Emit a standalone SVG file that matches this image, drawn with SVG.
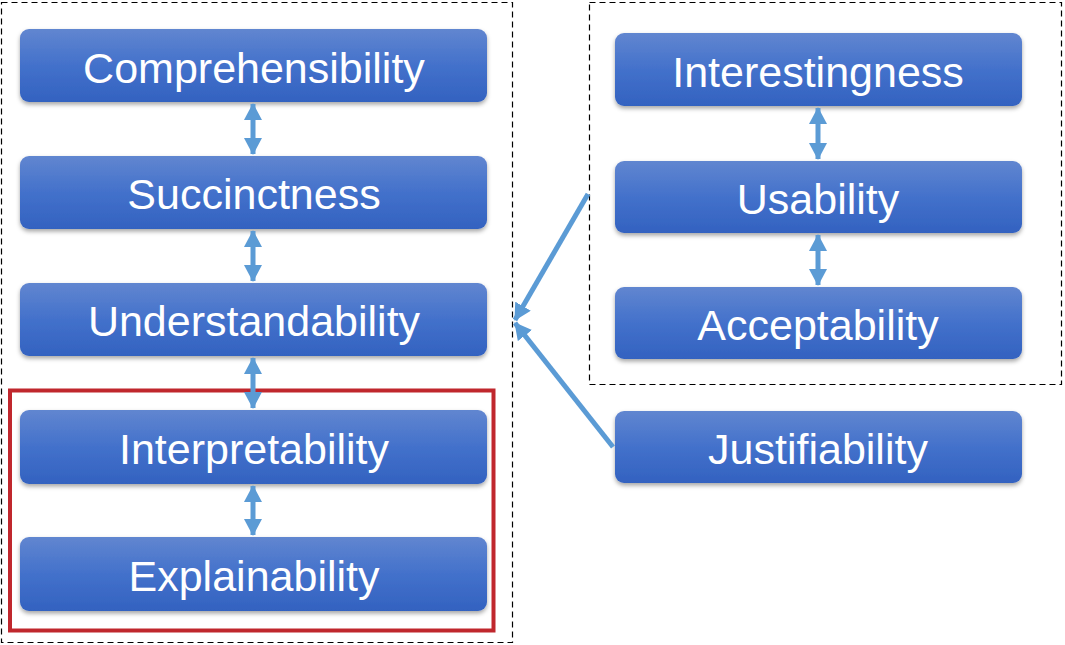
<svg xmlns="http://www.w3.org/2000/svg" width="1065" height="645" viewBox="0 0 1065 645">
<defs>
<linearGradient id="g" x1="0" y1="0" x2="0" y2="1">
<stop offset="0" stop-color="#6186d0"/>
<stop offset="0.5" stop-color="#4371cb"/>
<stop offset="1" stop-color="#3362c0"/>
</linearGradient>
<filter id="sh" x="-5%" y="-10%" width="110%" height="130%">
<feDropShadow dx="0" dy="2.5" stdDeviation="2" flood-color="#000" flood-opacity="0.35"/>
</filter>
<marker id="ah" viewBox="0 0 17 18" refX="16" refY="9" markerWidth="17" markerHeight="18" markerUnits="userSpaceOnUse" orient="auto-start-reverse">
<path d="M0,0 L17,9 L0,18 Z" fill="#5b9bd5"/>
</marker>
</defs>
<style>
.node rect{fill:url(#g);filter:url(#sh)}
.node text{font-family:"Liberation Sans",Arial,sans-serif;font-size:43px;fill:#fff;text-anchor:middle}
.dash{fill:none;stroke:#000;stroke-width:1.2;stroke-dasharray:6 4}
.conn line{stroke:#5b9bd5;stroke-width:5}
</style>
<rect class="dash" x="1.5" y="2.5" width="511" height="640"/>
<rect class="dash" x="589.5" y="2.5" width="472" height="382"/>
<rect x="10" y="390.5" width="483.5" height="240" fill="none" stroke="#c0272d" stroke-width="4"/>
<g id="n-comprehensibility" class="node"><rect x="20" y="29" width="467" height="73" rx="9"/><text x="254" y="82.5">Comprehensibility</text></g>
<g id="n-succinctness" class="node"><rect x="20" y="156" width="467" height="73" rx="9"/><text x="254" y="208.5">Succinctness</text></g>
<g id="n-understandability" class="node"><rect x="20" y="283" width="467" height="73" rx="9"/><text x="254" y="335.5">Understandability</text></g>
<g id="n-interpretability" class="node"><rect x="20" y="410" width="467" height="74" rx="9"/><text x="254" y="463.5">Interpretability</text></g>
<g id="n-explainability" class="node"><rect x="20" y="537" width="467" height="74" rx="9"/><text x="254" y="590.5">Explainability</text></g>
<g id="n-interestingness" class="node"><rect x="615" y="33" width="407" height="73" rx="9"/><text x="818" y="86.5">Interestingness</text></g>
<g id="n-usability" class="node"><rect x="615" y="161" width="407" height="72" rx="9"/><text x="818" y="213.5">Usability</text></g>
<g id="n-acceptability" class="node"><rect x="615" y="287" width="407" height="72" rx="9"/><text x="818" y="339.5">Acceptability</text></g>
<g id="n-justifiability" class="node"><rect x="615" y="411" width="407" height="72" rx="9"/><text x="818" y="463.5">Justifiability</text></g>
<g id="connectors" class="conn">
<line x1="253" y1="104" x2="253" y2="154" marker-start="url(#ah)" marker-end="url(#ah)"/>
<line x1="253" y1="231" x2="253" y2="281" marker-start="url(#ah)" marker-end="url(#ah)"/>
<line x1="253" y1="358" x2="253" y2="408" marker-start="url(#ah)" marker-end="url(#ah)"/>
<line x1="253" y1="486" x2="253" y2="535" marker-start="url(#ah)" marker-end="url(#ah)"/>
<line x1="818" y1="108" x2="818" y2="159" marker-start="url(#ah)" marker-end="url(#ah)"/>
<line x1="818" y1="235" x2="818" y2="285" marker-start="url(#ah)" marker-end="url(#ah)"/>
<line x1="588" y1="194" x2="515" y2="320" marker-end="url(#ah)"/>
<line x1="613" y1="447" x2="515" y2="323" marker-end="url(#ah)"/>
</g>
</svg>
